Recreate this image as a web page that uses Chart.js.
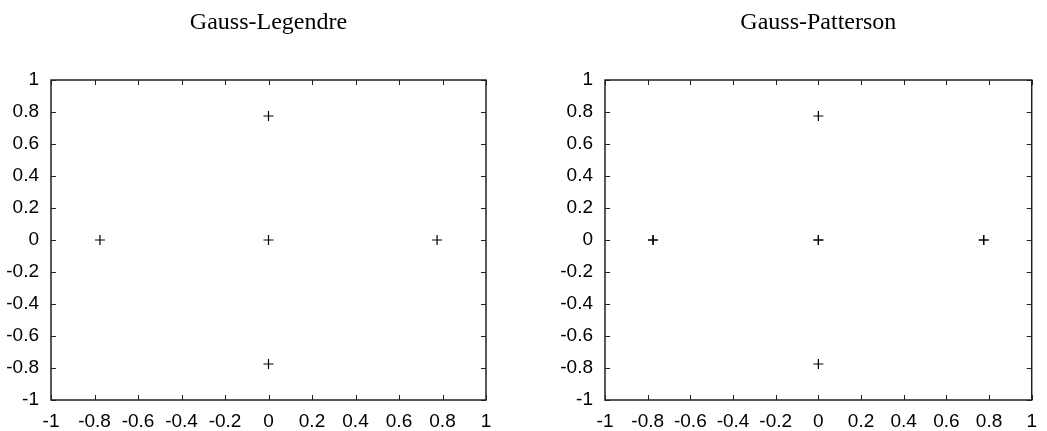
<!DOCTYPE html>
<html>
<head>
<meta charset="utf-8">
<script src="https://cdn.jsdelivr.net/npm/chart.js@4.4.1/dist/chart.umd.min.js"></script>
<style>
  html, body { margin: 0; padding: 0; background: #fff; }
  #wrap { position: relative; width: 1047px; height: 431px; }
  canvas { position: absolute; top: 0; }
  #left { left: 0; }
  #right { left: 523px; }
</style>
</head>
<body>
<div id="wrap">
  <canvas id="left" width="523" height="431"></canvas>
  <canvas id="right" width="524" height="431"></canvas>
</div>
<script>
// quadrature nodes
const legendreX = [0, -0.775, 0, 0.775, 0];
const legendreY = [0.775, 0, 0, 0, -0.775];

// Gauss-Patterson: centre and horizontal nodes appear twice (drawn bolder)
const pattersonX = [0, -0.775, -0.775, 0, 0, 0.775, 0.775, 0];
const pattersonY = [0.775, 0, 0, 0, 0, 0, 0, -0.775];

const tickValues = [-1, -0.8, -0.6, -0.4, -0.2, 0, 0.2, 0.4, 0.6, 0.8, 1];
const tickLabels = ['-1', '-0.8', '-0.6', '-0.4', '-0.2', '0', '0.2', '0.4', '0.6', '0.8', '1'];

const titles = ['Gauss-Legendre', 'Gauss-Patterson'];

const tickLen = 5;

// boxed frame with inward ticks on all four sides
const framePlugin = {
    id: 'frame',
    beforeDatasetsDraw(chart) {
        const ctx = chart.ctx;
        const a = chart.chartArea;
        const x = chart.scales.x;
        const y = chart.scales.y;
        ctx.save();
        ctx.strokeStyle = '#222';
        ctx.lineWidth = 1;
        ctx.beginPath();
        tickValues.forEach(v => {
            const px = Math.round(x.getPixelForValue(v)) + 0.5;
            ctx.moveTo(px, a.bottom);
            ctx.lineTo(px, a.bottom - tickLen);
            ctx.moveTo(px, a.top);
            ctx.lineTo(px, a.top + tickLen);
            const py = Math.round(y.getPixelForValue(v)) + 0.5;
            ctx.moveTo(a.left, py);
            ctx.lineTo(a.left + tickLen, py);
            ctx.moveTo(a.right, py);
            ctx.lineTo(a.right - tickLen, py);
        });
        ctx.stroke();
        ctx.lineWidth = 1.5;
        ctx.strokeRect(a.left, a.top, a.right - a.left, a.bottom - a.top);
        ctx.restore();
    }
};

function makeScale(axis, fitSize) {
    return {
        type: 'linear',
        min: -1,
        max: 1,
        grid: { display: false, drawTicks: false },
        border: { display: false },
        afterBuildTicks: scale => {
            scale.ticks = tickValues.map(v => ({ value: v }));
        },
        afterFit: scale => {
            if (axis === 'x') scale.height = fitSize;
            else scale.width = fitSize;
        },
        ticks: {
            autoSkip: false,
            maxRotation: 0,
            padding: axis === 'x' ? 10 : 12,
            color: '#000',
            font: { family: 'Liberation Sans', size: 19 },
            callback: (value, index) => tickLabels[index]
        }
    };
}

function makeChart(id, title, xs, ys, yWidth, rightPad) {
    const points = xs.map((v, i) => ({ x: v, y: ys[i] }));
    return new Chart(document.getElementById(id), {
        type: 'scatter',
        data: {
            datasets: [{
                data: points,
                pointStyle: 'cross',
                pointRadius: 5,
                pointHoverRadius: 5,
                borderColor: '#000',
                backgroundColor: '#000',
                borderWidth: 1.2
            }]
        },
        options: {
            responsive: false,
            animation: false,
            events: [],
            layout: { padding: { left: 0, right: rightPad, top: 0, bottom: 0 } },
            plugins: {
                legend: { display: false },
                tooltip: { enabled: false },
                title: {
                    display: true,
                    text: title,
                    fullSize: false,
                    color: '#000',
                    font: { family: 'Liberation Serif', size: 24, weight: 'normal', lineHeight: 1.2 },
                    padding: { top: 8, bottom: 43.2 }
                }
            },
            scales: {
                x: makeScale('x', 31),
                y: makeScale('y', yWidth)
            }
        },
        plugins: [framePlugin]
    });
}

makeChart('left', titles[0], legendreX, legendreY, 51, 37);
makeChart('right', titles[1], pattersonX, pattersonY, 82, 7);
</script>
</body>
</html>
